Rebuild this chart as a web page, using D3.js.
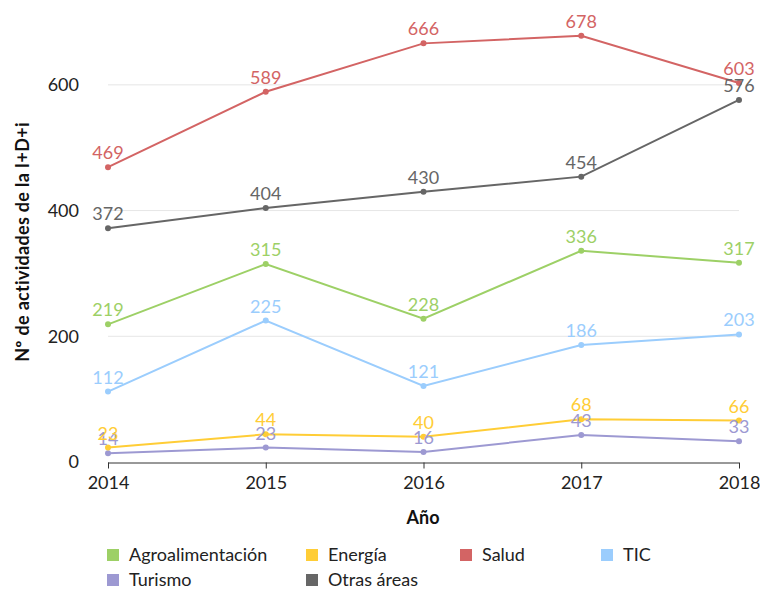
<!DOCTYPE html>
<html>
<head>
<meta charset="utf-8">
<script src="https://cdn.jsdelivr.net/npm/d3@7"></script>
<style>
  html, body { margin: 0; padding: 0; background: #fff; }
  svg { display: block; font-family: Lato, "Open Sans", sans-serif; }
</style>
</head>
<body>
<svg id="chart" width="760" height="589"></svg>
<script>
// Años y series de actividades de I+D+i por área
const years = [2014, 2015, 2016, 2017, 2018];
const agroalimentacion = [219, 315, 228, 336, 317];
const energia = [23, 44, 40, 68, 66];
const salud = [469, 589, 666, 678, 603];
const tic = [112, 225, 121, 186, 203];
const turismo = [14, 23, 16, 43, 33];
const otras = [372, 404, 430, 454, 576];
const yTicks = [0, 200, 400, 600];

const series = [
  { name: "Agroalimentación", values: agroalimentacion, color: "#9dd066" },
  { name: "Energía", values: energia, color: "#ffcd36" },
  { name: "Salud", values: salud, color: "#d36464" },
  { name: "TIC", values: tic, color: "#9bcdfd" },
  { name: "Turismo", values: turismo, color: "#9d99d2" },
  { name: "Otras áreas", values: otras, color: "#666666" }
];
// draw order (back to front)
const drawOrder = ["Agroalimentación", "TIC", "Otras áreas", "Salud", "Turismo", "Energía"];

const FS = 18;
const svg = d3.select("#chart");
const x = d3.scalePoint().domain(years).range([108, 739]);
const y = d3.scaleLinear().domain([0, 700]).range([462, 22]);

// gridlines
svg.append("g")
  .selectAll("line")
  .data(yTicks.filter(d => d > 0))
  .join("line")
  .attr("x1", 108).attr("x2", 739)
  .attr("y1", d => y(d)).attr("y2", d => y(d))
  .attr("stroke", "#e6e6e6").attr("stroke-width", 1);

// y tick labels
svg.append("g")
  .selectAll("text")
  .data(yTicks)
  .join("text")
  .attr("x", 79).attr("y", d => y(d))
  .attr("dy", "0.35em")
  .attr("text-anchor", "end")
  .attr("font-size", FS)
  .attr("fill", "#222")
  .text(d => d);

// x axis
const xAxis = svg.append("g")
  .attr("transform", `translate(0,${y(0) + 0.5})`)
  .call(d3.axisBottom(x).tickSize(6).tickPadding(8).tickFormat(d3.format("d")));
xAxis.select(".domain").attr("stroke", "#333").attr("d", "M108,0.5H739");
xAxis.selectAll(".tick line").attr("stroke", "#333");
xAxis.selectAll(".tick text").attr("font-size", FS).attr("fill", "#222")
  .attr("font-family", "Lato, 'Open Sans', sans-serif");

// axis titles
svg.append("text")
  .attr("transform", "translate(29,242) rotate(-90)")
  .attr("text-anchor", "middle")
  .attr("font-size", FS).attr("font-weight", "bold").attr("fill", "#111")
  .attr("letter-spacing", 0.3)
  .text("Nº de actividades de la I+D+i");
svg.append("text")
  .attr("x", 423).attr("y", 524)
  .attr("text-anchor", "middle")
  .attr("font-size", FS).attr("font-weight", "bold").attr("fill", "#111")
  .text("Año");

const line = d3.line().x((d, i) => x(years[i])).y(d => y(d));
const ordered = drawOrder.map(n => series.find(s => s.name === n));

const g = svg.append("g");
ordered.forEach(s => {
  g.append("path")
    .attr("d", line(s.values))
    .attr("fill", "none")
    .attr("stroke", s.color)
    .attr("stroke-width", 2);
  g.selectAll(null)
    .data(s.values)
    .join("circle")
    .attr("cx", (d, i) => x(years[i]))
    .attr("cy", d => y(d))
    .attr("r", 3)
    .attr("fill", s.color);
});
ordered.forEach(s => {
  g.selectAll(null)
    .data(s.values)
    .join("text")
    .attr("x", (d, i) => x(years[i]))
    .attr("y", d => y(d) - 8)
    .attr("text-anchor", "middle")
    .attr("font-size", FS)
    .attr("fill", s.color)
    .text(d => d);
});

// legend
const legendPos = [
  [113, 555], [312, 555], [466, 555], [607, 555],
  [113, 580], [312, 580]
];
const legend = svg.append("g");
series.forEach((s, i) => {
  const [lx, ly] = legendPos[i];
  legend.append("rect")
    .attr("x", lx - 6).attr("y", ly - 6)
    .attr("width", 12).attr("height", 12)
    .attr("fill", s.color);
  legend.append("text")
    .attr("x", lx + 16).attr("y", ly)
    .attr("dy", "0.35em")
    .attr("font-size", FS).attr("fill", "#222")
    .text(s.name);
});
</script>
</body>
</html>
